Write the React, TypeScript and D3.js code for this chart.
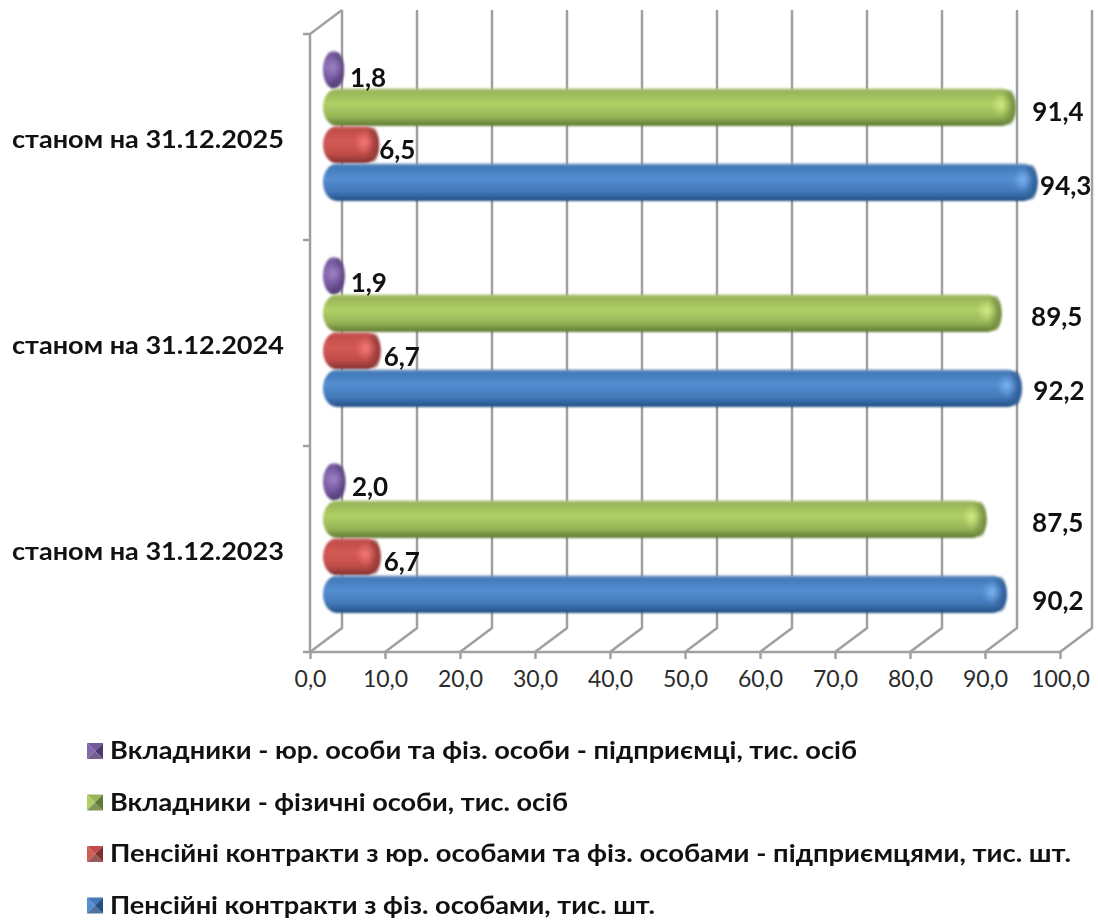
import React, { useEffect, useRef } from 'react';
import * as d3 from 'd3';

// categories bottom to top
const categories = ['станом на 31.12.2023', 'станом на 31.12.2024', 'станом на 31.12.2025'];
const depositorsLegal = [2.0, 1.9, 1.8];
const depositorsPersons = [87.5, 89.5, 91.4];
const contractsLegal = [6.7, 6.7, 6.5];
const contractsPersons = [90.2, 92.2, 94.3];
const axisTicks = [0, 10, 20, 30, 40, 50, 60, 70, 80, 90, 100];

// order top to bottom inside a category, same as the legend
const seriesNames = [
  'Вкладники - юр. особи та фіз. особи - підприємці, тис. осіб',
  'Вкладники - фізичні особи, тис. осіб',
  'Пенсійні контракти з юр. особами та фіз. особами - підприємцями, тис. шт.',
  'Пенсійні контракти з фіз. особами, тис. шт.',
];
const seriesValues = [depositorsLegal, depositorsPersons, contractsLegal, contractsPersons];

const palettes = [
  { id: 'purple', edge: '#9c88b8', dark: '#4f3a70', base: '#7557a0', mid: '#8468aa', glow: '#a88bd0' },
  { id: 'green', edge: '#b5c884', dark: '#5f7a33', base: '#98b558', mid: '#b0d066', glow: '#d8f28a' },
  { id: 'red', edge: '#d08584', dark: '#80302e', base: '#c04c49', mid: '#d45a57', glow: '#ff8280' },
  { id: 'blue', edge: '#7f9fc8', dark: '#234f84', base: '#4279b8', mid: '#558ed2', glow: '#84baf8' },
];

// manual data label shifts (same order as seriesValues, then categories)
const labelDx = [[24.5, 24, 24], [71, 55, 42], [21, 21, 18], [51, 37, 28]];
const labelDy = [[5.5, 7.5, 8], [4, 4, 5], [5, 6, 5], [7, 3, 4]];

const WIDTH = 1098;
const HEIGHT = 922;
const FLOOR = 652;
const TOP = 34;
const DEPTH_X = 32;
const DEPTH_Y = 24;
const BAR_INSET = 13;
const CAP = 7.5;
const GRID = '#a0a0a0';
const FONT = 'Lato, "Open Sans", sans-serif';

const xScale = d3.scaleLinear().domain([0, 100]).range([310, 1060]);
const yCategory = d3.scaleBand<string>().domain(categories).range([FLOOR, TOP]);
const ySeries = d3.scaleBand<string>().domain(seriesNames).range([17, 167]);
const numberFormat = d3.formatLocale({
  decimal: ',', thousands: ' ', grouping: [3], currency: ['', ''],
}).format('.1f');

export default function App() {
  const axisRef = useRef<SVGGElement>(null);

  useEffect(() => {
    const axis = d3.select(axisRef.current);
    axis.call(
      d3.axisBottom(xScale).tickValues(axisTicks).tickSize(7).tickPadding(12)
        .tickFormat((d) => numberFormat(d as number)) as any
    );
    axis.select('.domain').remove();
    axis.selectAll('line').attr('stroke', GRID).attr('stroke-width', 2.5);
    axis.selectAll('text')
      .attr('fill', '#2b2b2b')
      .style('font-family', FONT)
      .style('font-size', '23px');
  }, []);

  const bandY = (catIndex: number) => yCategory(categories[catIndex]) as number;

  return (
    <svg width={WIDTH} height={HEIGHT} style={{ position: 'absolute', left: 0, top: 0, display: 'block' }}>
      <defs>
        {palettes.map((p) => (
          <React.Fragment key={p.id}>
            <linearGradient id={`body-${p.id}`} x1="0" y1="0" x2="0" y2="1">
              <stop offset="0" stopColor={p.edge} />
              <stop offset="0.08" stopColor={p.base} />
              <stop offset="0.4" stopColor={p.mid} />
              <stop offset="0.75" stopColor={p.base} />
              <stop offset="1" stopColor={p.dark} />
            </linearGradient>
            <radialGradient id={`glow-${p.id}`}>
              <stop offset="0" stopColor={p.glow} />
              <stop offset="0.35" stopColor={p.glow} stopOpacity="0.6" />
              <stop offset="1" stopColor={p.glow} stopOpacity="0" />
            </radialGradient>
            <linearGradient id={`rim-${p.id}`} x1="0" y1="0" x2="1" y2="0">
              <stop offset="0" stopColor={p.dark} stopOpacity="0" />
              <stop offset="1" stopColor={p.dark} stopOpacity="0.8" />
            </linearGradient>
          </React.Fragment>
        ))}
        <filter id="soft" x="-5%" y="-20%" width="110%" height="140%">
          <feGaussianBlur stdDeviation="0.8" />
        </filter>
      </defs>
      <rect width={WIDTH} height={HEIGHT} fill="#ffffff" />

      {/* walls */}
      <g stroke={GRID} strokeWidth={2.5} fill="none">
        {axisTicks.map((t) => (
          <path
            key={t}
            d={`M${xScale(t)},${FLOOR}L${xScale(t) + DEPTH_X},${FLOOR - DEPTH_Y}V${TOP - DEPTH_Y}`}
          />
        ))}
        <path d={`M${xScale(0)},${FLOOR}V${TOP}L${xScale(0) + DEPTH_X},${TOP - DEPTH_Y}`} />
        <path d={`M${xScale(0) - 7},${FLOOR}H${xScale(100)}`} />
        {categories.map((c) => (
          <path key={c} d={`M${xScale(0) - 7},${(yCategory(c) as number)}H${xScale(0)}`} />
        ))}
      </g>
      <g ref={axisRef} transform={`translate(0,${FLOOR})`} />

      {/* bars */}
      {seriesNames.map((name, s) => {
        const p = palettes[s];
        return (
          <g key={name} filter="url(#soft)">
            {seriesValues[s].map((v, c) => {
              const x0 = xScale(0) + BAR_INSET;
              const x1 = xScale(v) + BAR_INSET + CAP;
              const y = bandY(c) + (ySeries(name) as number);
              const h = ySeries.bandwidth();
              const w = x1 - x0;
              const rx = Math.min(w / 2, 14);
              const rimW = Math.min(w, 14);
              return (
                <g key={c}>
                  <rect x={x0} y={y} width={w} height={h} rx={rx} ry={h / 2} fill={`url(#body-${p.id})`} />
                  <rect
                    x={x1 - rimW}
                    y={y + 1}
                    width={rimW}
                    height={h - 2}
                    rx={Math.min(w / 2, 12)}
                    ry={h / 2.1}
                    fill={`url(#rim-${p.id})`}
                  />
                  <ellipse
                    cx={x1 - Math.min(w / 2, 15)}
                    cy={y + h * 0.44}
                    rx={Math.min(w / 2, 10)}
                    ry={12}
                    fill={`url(#glow-${p.id})`}
                    opacity={0.8}
                  />
                </g>
              );
            })}
          </g>
        );
      })}

      {/* data labels */}
      {seriesNames.map((name, s) =>
        seriesValues[s].map((v, c) => (
          <text
            key={`${s}-${c}`}
            x={xScale(v) + BAR_INSET + CAP + labelDx[s][c]}
            y={bandY(c) + (ySeries(name) as number) + ySeries.bandwidth() / 2 + labelDy[s][c] - 1}
            textAnchor="middle"
            dominantBaseline="central"
            fontFamily={FONT}
            fontWeight={700}
            fontSize={26}
            fill="#111111"
          >
            {numberFormat(v)}
          </text>
        ))
      )}

      {/* category labels */}
      {categories.map((c) => (
        <text
          key={c}
          x={284}
          y={(yCategory(c) as number) + yCategory.bandwidth() / 2 + 1}
          textAnchor="end"
          dominantBaseline="central"
          fontFamily={FONT}
          fontWeight={700}
          fontSize={25}
          textLength={272}
          lengthAdjust="spacingAndGlyphs"
          fill="#111111"
        >
          {c}
        </text>
      ))}

      {/* legend */}
      {seriesNames.map((name, s) => {
        const p = palettes[s];
        const cy = 751 + s * 51.5;
        const l = 87;
        const r = 103;
        const t = cy - 8;
        const b = cy + 8;
        const mx = (l + r) / 2;
        return (
          <g key={name}>
            <polygon points={`${l},${t} ${r},${t} ${mx},${cy}`} fill={p.base} />
            <polygon points={`${l},${t} ${l},${b} ${mx},${cy}`} fill={p.mid} />
            <polygon points={`${r},${t} ${r},${b} ${mx},${cy}`} fill={p.dark} />
            <polygon points={`${l},${b} ${r},${b} ${mx},${cy}`} fill={p.dark} opacity={0.8} />
            <text
              x={110}
              y={cy - 2}
              dominantBaseline="central"
              fontFamily={FONT}
              fontWeight={700}
              fontSize={25}
              fill="#111111"
              textLength={[747, 458, 961, 545][s]}
              lengthAdjust="spacingAndGlyphs"
            >
              {name}
            </text>
          </g>
        );
      })}
    </svg>
  );
}
